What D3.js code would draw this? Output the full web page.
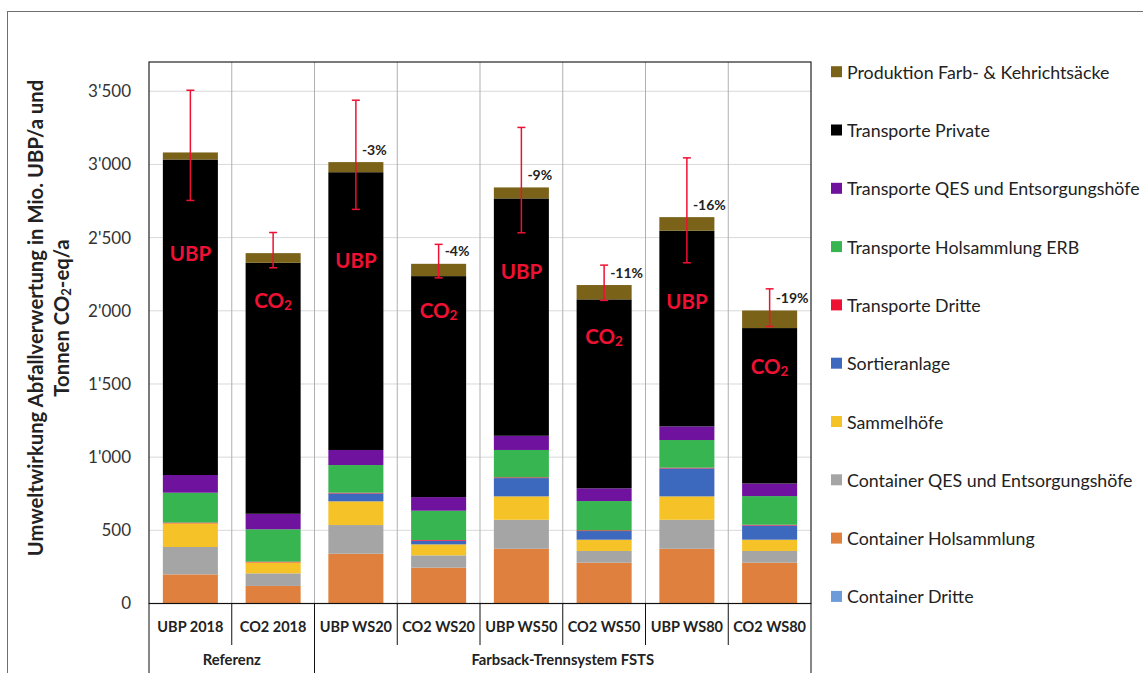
<!DOCTYPE html>
<html>
<head>
<meta charset="utf-8">
<script src="https://cdn.jsdelivr.net/npm/d3@7"></script>
<style>
  html, body { margin: 0; padding: 0; background: #fff; }
  svg { display: block; font-family: Lato, "Open Sans", sans-serif; }
</style>
</head>
<body>
<svg id="chart" width="1143" height="673"></svg>
<script>
// ---------- DATA ----------
const categories = ["UBP 2018", "CO2 2018", "UBP WS20", "CO2 WS20", "UBP WS50", "CO2 WS50", "UBP WS80", "CO2 WS80"];
const groups = ["Referenz", "Farbsack-Trennsystem FSTS"];
const groupSizes = [2, 6];

// stacked series, bottom to top
const containerDritte      = [0, 0, 0, 0, 0, 0, 0, 0];
const containerHolsammlung = [199, 120, 340, 245, 374, 279, 374, 279];
const containerQES         = [187, 86, 196, 84, 198, 80, 198, 80];
const sammelhoefe          = [162, 75, 162, 75, 160, 77, 160, 77];
const sortieranlage        = [0, 0, 54, 25, 125, 59, 191, 97];
const transporteDritte     = [5, 5, 5, 5, 5, 5, 5, 5];
const transporteHolsammlung= [204, 221, 189, 200, 187, 200, 189, 196];
const transporteQES        = [121, 106, 103, 93, 97, 87, 93, 86];
const transportePrivate    = [2156, 1715, 1898, 1510, 1622, 1291, 1337, 1062];
const produktion           = [48, 66, 69, 84, 75, 98, 93, 120];

const errHigh = [3507, 2535, 3439, 2454, 3253, 2312, 3045, 2150];
const errLow  = [2754, 2294, 2693, 2225, 2533, 2071, 2328, 1893];

const changeLabels = ["", "", "-3%", "-4%", "-9%", "-11%", "-16%", "-19%"];
const barLabels = ["UBP", "CO2", "UBP", "CO2", "UBP", "CO2", "UBP", "CO2"];
const barLabelValues = [2394, 2073, 2346, 2005, 2271, 1827, 2070, 1626];

const yTicks = [0, 500, 1000, 1500, 2000, 2500, 3000, 3500];
const yMax = 3700;

const seriesNames = [
  "Container Dritte", "Container Holsammlung", "Container QES und Entsorgungshöfe",
  "Sammelhöfe", "Sortieranlage", "Transporte Dritte", "Transporte Holsammlung ERB",
  "Transporte QES und Entsorgungshöfe", "Transporte Private", "Produktion Farb- & Kehrichtsäcke"
];
const seriesValues = [
  containerDritte, containerHolsammlung, containerQES, sammelhoefe, sortieranlage,
  transporteDritte, transporteHolsammlung, transporteQES, transportePrivate, produktion
];
const seriesColors = [
  "#6b9bd8", "#e0803e", "#a5a5a5", "#f5c328", "#3c68be",
  "#ee1133", "#37b550", "#6f139f", "#000000", "#7b6219"
];

// ---------- LAYOUT ----------
const svg = d3.select("#chart");
const pLeft = 149, pRight = 811, pTop = 62, pBottom = 603.5;

const x = d3.scaleBand().domain(categories).range([pLeft, pRight]).padding(0);
const y = d3.scaleLinear().domain([0, yMax]).range([pBottom, pTop]);
const barW = x.bandwidth() * 0.665;

// outer frame
svg.append("rect").attr("x", 7.5).attr("y", 11.5).attr("width", 1160).attr("height", 700)
  .attr("fill", "none").attr("stroke", "#6e6e6e").attr("stroke-width", 1);

// horizontal gridlines
svg.append("g").selectAll("line").data(yTicks.filter(d => d > 0)).join("line")
  .attr("x1", pLeft).attr("x2", pRight)
  .attr("y1", d => y(d)).attr("y2", d => y(d))
  .attr("stroke", "#d9d9d9").attr("stroke-width", 1);

// vertical category gridlines
svg.append("g").selectAll("line").data(categories.slice(1)).join("line")
  .attr("x1", d => x(d)).attr("x2", d => x(d))
  .attr("y1", pTop).attr("y2", pBottom)
  .attr("stroke", "#b0b0b0").attr("stroke-width", 1);

// stacked bars
const rows = categories.map((c, i) => {
  const r = { cat: c };
  seriesNames.forEach((s, j) => r[s] = seriesValues[j][i]);
  return r;
});
const stack = d3.stack().keys(seriesNames)(rows);
svg.append("g").selectAll("g").data(stack).join("g")
  .attr("fill", (d, i) => seriesColors[i])
  .selectAll("rect").data(d => d).join("rect")
  .attr("x", d => x(d.data.cat) + (x.bandwidth() - barW) / 2)
  .attr("width", barW)
  .attr("y", d => y(d[1]))
  .attr("height", d => Math.max(0, y(d[0]) - y(d[1])));

// plot border
svg.append("rect").attr("x", pLeft).attr("y", pTop).attr("width", pRight - pLeft).attr("height", pBottom - pTop)
  .attr("fill", "none").attr("stroke", "#222").attr("stroke-width", 1.2);

// bar labels (UBP / CO2)
const lbl = svg.append("g").selectAll("text").data(categories).join("text")
  .attr("x", d => x(d) + x.bandwidth() / 2)
  .attr("y", (d, i) => y(barLabelValues[i]))
  .attr("text-anchor", "middle").attr("dominant-baseline", "central")
  .attr("fill", "#ee1133").attr("font-weight", "bold").attr("font-size", 20.5);
lbl.each(function (d, i) {
  const t = d3.select(this);
  if (barLabels[i] === "CO2") {
    t.append("tspan").text("CO");
    t.append("tspan").text("2").attr("font-size", 13.5).attr("dy", 5);
  } else {
    t.text(barLabels[i]);
  }
});

// error bars
const eb = svg.append("g").attr("stroke", "#ee1133").attr("stroke-width", 1.5);
categories.forEach((c, i) => {
  const cx = x(c) + x.bandwidth() / 2;
  eb.append("line").attr("x1", cx).attr("x2", cx).attr("y1", y(errHigh[i])).attr("y2", y(errLow[i]));
  eb.append("line").attr("x1", cx - 4).attr("x2", cx + 4).attr("y1", y(errHigh[i])).attr("y2", y(errHigh[i]));
  eb.append("line").attr("x1", cx - 4).attr("x2", cx + 4).attr("y1", y(errLow[i])).attr("y2", y(errLow[i]));
});

// change labels
const totals = categories.map((c, i) => d3.sum(seriesValues, s => s[i]));
svg.append("g").selectAll("text").data(categories).join("text")
  .attr("x", d => x(d) + x.bandwidth() / 2 + 6)
  .attr("y", (d, i) => y(totals[i]) - 13)
  .attr("dominant-baseline", "central")
  .attr("font-size", 14).attr("font-weight", "bold").attr("fill", "#222")
  .text((d, i) => changeLabels[i]);

// y axis
const yAxis = d3.axisLeft(y).tickValues(yTicks).tickSize(0).tickPadding(18)
  .tickFormat(d => d3.format(",")(d).replace(/,/g, "'"));
const ya = svg.append("g").attr("transform", `translate(${pLeft},0)`).call(yAxis);
ya.select(".domain").remove();
ya.selectAll("text").attr("font-size", 17).attr("fill", "#333").attr("font-family", "Lato, sans-serif");

// y axis title
const yt = svg.append("g").attr("font-weight", "bold").attr("font-size", 20.3).attr("fill", "#222");
yt.append("text").attr("transform", "translate(35,318) rotate(-90)")
  .attr("text-anchor", "middle").attr("dominant-baseline", "central")
  .text("Umweltwirkung Abfallverwertung in Mio. UBP/a und");
const yt2 = yt.append("text").attr("transform", "translate(61,318) rotate(-90)")
  .attr("text-anchor", "middle").attr("dominant-baseline", "central");
yt2.append("tspan").text("Tonnen CO");
yt2.append("tspan").text("2").attr("font-size", 13).attr("dy", 5);
yt2.append("tspan").text("-eq/a").attr("dy", -5);

// x axis line
svg.append("line").attr("x1", pLeft).attr("x2", pRight).attr("y1", pBottom).attr("y2", pBottom)
  .attr("stroke", "#111").attr("stroke-width", 1.2);

// category separators below axis
svg.append("g").selectAll("line").data(categories.slice(1)).join("line")
  .attr("x1", d => x(d)).attr("x2", d => x(d))
  .attr("y1", pBottom).attr("y2", 645)
  .attr("stroke", "#111").attr("stroke-width", 1);

// group separators
const gEdges = [pLeft].concat(groupSizes.map((n, i) => {
  const idx = d3.sum(groupSizes.slice(0, i + 1));
  return idx < categories.length ? x(categories[idx]) : pRight;
}));
svg.append("g").selectAll("line").data(gEdges).join("line")
  .attr("x1", d => d).attr("x2", d => d)
  .attr("y1", pBottom).attr("y2", 673)
  .attr("stroke", "#111").attr("stroke-width", 1);

// category labels
svg.append("g").selectAll("text").data(categories).join("text")
  .attr("x", d => x(d) + x.bandwidth() / 2).attr("y", 626)
  .attr("text-anchor", "middle").attr("dominant-baseline", "central")
  .attr("font-size", 14.5).attr("font-weight", "bold").attr("fill", "#222")
  .text(d => d);

// group labels
svg.append("g").selectAll("text").data(groups).join("text")
  .attr("x", (d, i) => (gEdges[i] + gEdges[i + 1]) / 2).attr("y", 659)
  .attr("text-anchor", "middle").attr("dominant-baseline", "central")
  .attr("font-size", 14.8).attr("font-weight", "bold").attr("fill", "#222")
  .text(d => d);

// legend (reverse order: top item = top of stack)
const legendItems = seriesNames.map((n, i) => ({ name: n, color: seriesColors[i] })).reverse();
const lg = svg.append("g").selectAll("g").data(legendItems).join("g")
  .attr("transform", (d, i) => `translate(831,${71.7 + i * 58.3})`);
lg.append("rect").attr("x", 0).attr("y", -5.5).attr("width", 11).attr("height", 11)
  .attr("fill", d => d.color);
lg.append("text").attr("x", 16).attr("y", 0).attr("dominant-baseline", "central")
  .attr("font-size", 17.8).attr("fill", "#222").text(d => d.name);
</script>
</body>
</html>
